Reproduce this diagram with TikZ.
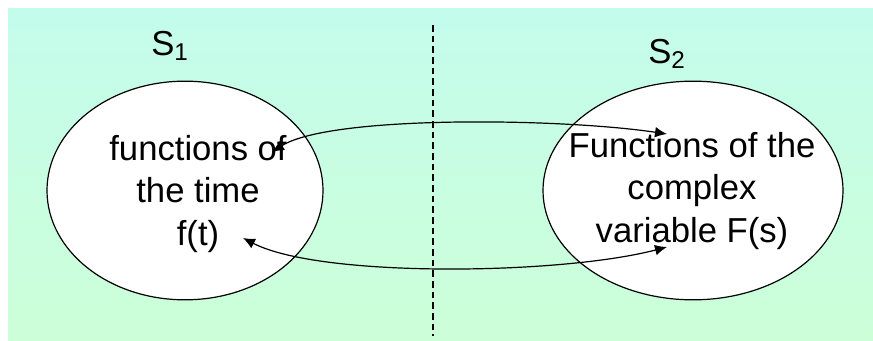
\documentclass[tikz,border=0pt]{standalone}
\usepackage{fontspec}
\setmainfont{Liberation Sans}
\usetikzlibrary{shapes.geometric,arrows.meta}

\definecolor{bgtop}{RGB}{196,252,236}
\definecolor{bgbot}{RGB}{204,255,216}

\tikzset{
  setbox/.style={ellipse,draw,fill=white,line width=0.9pt,inner sep=0pt},
  settext/.style={align=center,inner sep=0pt,font=\fontsize{26}{32}\selectfont},
  setname/.style={font=\fontsize{26}{30}\selectfont},
  maps/.style={{Latex[length=9pt,width=8pt]}-{Latex[length=9pt,width=8pt]},line width=0.9pt}
}

\begin{document}
\begin{tikzpicture}[x=0.75pt,y=-0.75pt]
\useasboundingbox (0,0) rectangle (873,341);
\shade[top color=bgtop,bottom color=bgbot] (8,9) rectangle (873,341);

\coordinate (divtop) at (433,25);
\coordinate (divbot) at (433,336);
\draw[dash pattern=on 5pt off 3pt,line width=0.9pt] (divtop) -- (divbot);

\node[setbox,minimum width=207pt,minimum height=164pt] (time) at (185,190.5) {};
\node[setbox,minimum width=225pt,minimum height=164pt] (cplx) at (693,190.5) {};
\node[settext] (timetext) at (198,194) {functions of\\the time\\f(t)};
\node[settext] (cplxtext) at (692,191) {Functions of the\\complex\\variable F(s)};

\node[setname] (s1) at (170,46) {S\textsubscript{1}};
\node[setname] (s2) at (667,54) {S\textsubscript{2}};

% the two maps between the sets
\coordinate (t1) at (272,152);
\coordinate (f1) at (667,134);
\coordinate (t2) at (243,238);
\coordinate (f2) at (667,247);
\draw[maps] (t1) .. controls (330,115) and (560,118) .. (f1);
\draw[maps] (t2) .. controls (320,278) and (560,275) .. (f2);
\end{tikzpicture}
\end{document}
